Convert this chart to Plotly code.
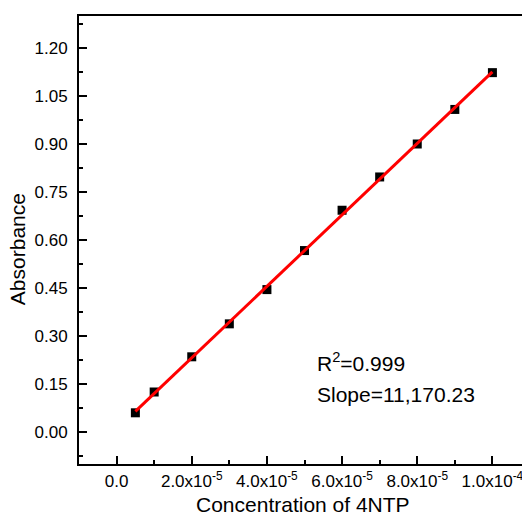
import numpy as np
import plotly.graph_objects as go

# Data
conc = [0.5e-5, 1e-5, 2e-5, 3e-5, 4e-5, 5e-5, 6e-5, 7e-5, 8e-5, 9e-5, 1e-4]
absorb = [0.060, 0.125, 0.235, 0.338, 0.445, 0.567, 0.693, 0.797, 0.900, 1.008, 1.123]
x_tickvals = [0, 2e-5, 4e-5, 6e-5, 8e-5, 1e-4]
x_ticktext = ["0.0", "2.0x10<sup>-5</sup>", "4.0x10<sup>-5</sup>", "6.0x10<sup>-5</sup>",
              "8.0x10<sup>-5</sup>", "1.0x10<sup>-4</sup>"]
r2_text = "R<sup>2</sup>=0.999"
slope_text = "Slope=11,170.23"

# Linear fit through the data
slope, intercept = np.polyfit(conc, absorb, 1)
fit_x = [conc[0], conc[-1]]
fit_y = [slope * v + intercept for v in fit_x]

FONT = "Liberation Sans, Arial, sans-serif"

# plot area (figure coords; page body adds 8px offset)
L, T, B, R = 71, 6, 456, 523.4
W = R - L
H = B - T

def px(wx):
    return (wx - 8 - L) / W

def py(wy):
    return (B - (wy - 8)) / H

fig = go.Figure()
fig.add_trace(go.Scatter(x=conc, y=absorb, mode="markers",
                         marker=dict(symbol="square", size=9, color="black"),
                         showlegend=False))
fig.add_trace(go.Scatter(x=fit_x, y=fit_y, mode="lines",
                         line=dict(color="#ff0000", width=3),
                         showlegend=False))

fig.update_layout(
    width=530, height=515,
    margin=dict(l=L, r=530 - R, t=T, b=515 - B),
    paper_bgcolor="white", plot_bgcolor="white",
    font=dict(family=FONT, color="black", size=17),
    xaxis=dict(range=[-1e-5, 1.1e-4], showgrid=False, zeroline=False,
               showline=True, linecolor="black", linewidth=2, mirror=True,
               ticks="inside", ticklen=8, tickwidth=2, tickcolor="black",
               tickmode="array", tickvals=x_tickvals, ticktext=x_ticktext,
               ticklabelstandoff=1,
               minor=dict(ticks="inside", ticklen=4, tickwidth=2, tickcolor="black",
                          dtick=1e-5, tick0=0)),
    yaxis=dict(range=[-0.1, 1.3], showgrid=False, zeroline=False,
               showline=True, linecolor="black", linewidth=2, mirror=True,
               ticks="inside", ticklen=8, tickwidth=2, tickcolor="black",
               tick0=0, dtick=0.15, tickformat=".2f",
               ticklabelstandoff=6,
               minor=dict(ticks="inside", ticklen=4, tickwidth=2, tickcolor="black",
                          dtick=0.075, tick0=0)),
    annotations=[
        dict(text=r2_text, x=px(316), y=py(362), xref="paper", yref="paper",
             xanchor="left", yanchor="middle", showarrow=False, font=dict(size=21)),
        dict(text=slope_text, x=px(316), y=py(394), xref="paper", yref="paper",
             xanchor="left", yanchor="middle", showarrow=False, font=dict(size=21)),
        dict(text="Concentration of 4NTP", x=px(304), y=py(505),
             xref="paper", yref="paper", xanchor="center", yanchor="middle",
             showarrow=False, font=dict(size=21)),
        dict(text="Absorbance", x=px(18), y=py(248), textangle=-90,
             xref="paper", yref="paper", xanchor="center", yanchor="middle",
             showarrow=False, font=dict(size=21)),
    ],
)

fig.write_html("out.html")
